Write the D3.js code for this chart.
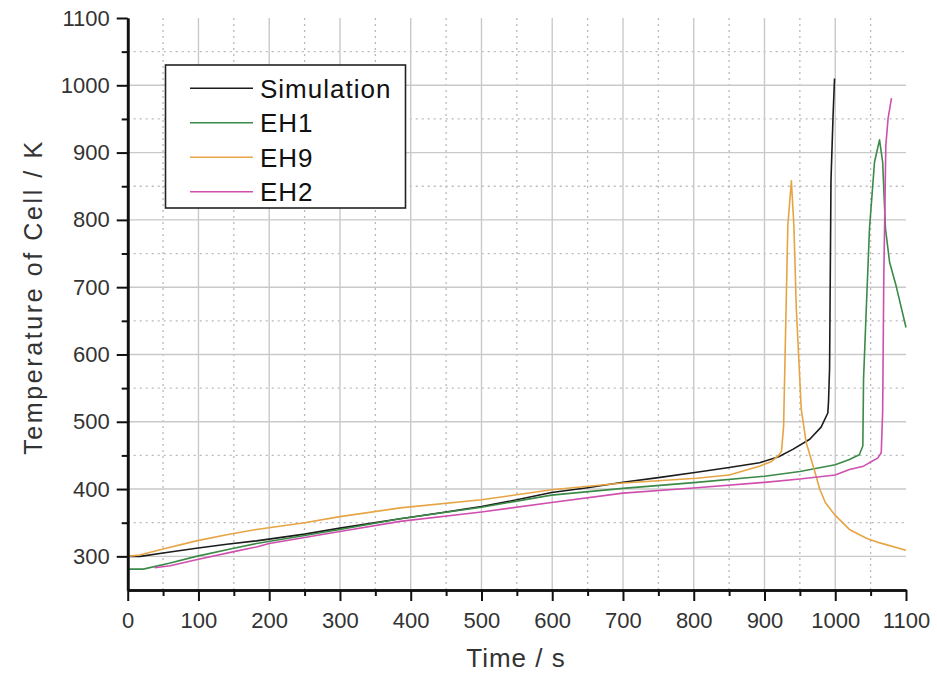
<!DOCTYPE html>
<html>
<head>
<meta charset="utf-8">
<script src="https://cdn.jsdelivr.net/npm/d3@7"></script>
<style>
  body { margin: 0; background: #fff; }
  svg { display: block; }
  text { font-family: Arial, "Liberation Sans", sans-serif; }
</style>
</head>
<body>
<svg id="chart" width="937" height="675"></svg>
<script>
// series data, [time (s), temperature (K)]
const simulationData = [
  [0, 300], [18, 300], [50, 305], [97, 312], [140, 318], [182, 323], [250, 333],
  [300, 342], [385, 356], [450, 366], [500, 374], [550, 384], [599, 395],
  [650, 402], [700, 410], [750, 417], [804, 425], [850, 432], [893, 439],
  [920, 448], [940, 459], [964, 474], [980, 492], [989.5, 513], [990.5, 530],
  [992, 580], [994, 860], [997, 957], [999, 1010]
];
const eh1Data = [
  [0, 281], [22, 281], [60, 290], [97, 300], [150, 312], [182, 319], [250, 331],
  [300, 340], [385, 356], [500, 373], [599, 391], [700, 401], [804, 410],
  [900, 419], [950, 426], [1000, 436], [1020, 444], [1034, 451], [1039, 464],
  [1040, 563], [1043.7, 663], [1048.4, 787], [1055.5, 886], [1062.6, 919],
  [1067, 886], [1071, 787], [1076.8, 737], [1086, 702], [1100, 640]
];
const eh9Data = [
  [0, 300], [17, 302], [50, 311], [97, 323], [140, 332], [182, 340], [250, 350],
  [300, 359], [385, 372], [500, 384], [599, 399], [700, 409], [804, 416],
  [850, 421], [893, 434], [910, 441], [920, 450], [924, 456], [927, 493],
  [930, 643], [933, 792], [938, 858], [941.5, 792], [945, 668], [948.5, 593],
  [952, 518], [959, 469], [966, 444], [973, 419], [978, 400], [986, 380],
  [999, 362], [1020, 340], [1044, 327], [1063, 320], [1100, 309]
];
const eh2Data = [
  [38, 283], [60, 286], [97, 295], [150, 307], [182, 314], [200, 319],
  [300, 337], [385, 352], [500, 366], [599, 380], [700, 394], [804, 402],
  [900, 410], [950, 415], [1000, 421], [1020, 429], [1040, 434], [1048, 439],
  [1060, 446], [1065, 454], [1067, 514], [1068.6, 712], [1071.5, 911],
  [1074.7, 951], [1079.5, 981]
];

const seriesNames = ["Simulation", "EH1", "EH9", "EH2"];
const seriesColors = ["#1c1c1c", "#3b8a47", "#e7a444", "#cf4fae"];
const seriesData = [simulationData, eh1Data, eh9Data, eh2Data];

const xMajor = d3.range(0, 1101, 100);
const xMinor = d3.range(50, 1100, 100);
const yMajor = d3.range(300, 1101, 100);
const yMinor = d3.range(350, 1100, 100);

const xTitle = "Time / s";
const yTitle = "Temperature of Cell / K";

const svg = d3.select("#chart");
const plot = { left: 127.7, right: 906, top: 18, bottom: 590 };

const x = d3.scaleLinear().domain([0, 1100]).range([plot.left, plot.right]);
const y = d3.scaleLinear().domain([250, 1100]).range([plot.bottom, plot.top]);

// grid
const grid = svg.append("g");
grid.selectAll(".vminor").data(xMinor).enter().append("line")
  .attr("x1", d => x(d)).attr("x2", d => x(d))
  .attr("y1", plot.top).attr("y2", plot.bottom)
  .attr("stroke", "#b9b9b9").attr("stroke-width", 1.3)
  .attr("stroke-dasharray", "2,4");
grid.selectAll(".hminor").data(yMinor).enter().append("line")
  .attr("x1", plot.left).attr("x2", plot.right)
  .attr("y1", d => y(d)).attr("y2", d => y(d))
  .attr("stroke", "#b9b9b9").attr("stroke-width", 1.3)
  .attr("stroke-dasharray", "2,4");
grid.selectAll(".vmajor").data(xMajor.filter(d => d > 0 && d < 1100)).enter().append("line")
  .attr("x1", d => x(d)).attr("x2", d => x(d))
  .attr("y1", plot.top).attr("y2", plot.bottom)
  .attr("stroke", "#c9c9c9").attr("stroke-width", 1.4);
grid.selectAll(".hmajor").data(yMajor.filter(d => d < 1100)).enter().append("line")
  .attr("x1", plot.left).attr("x2", plot.right)
  .attr("y1", d => y(d)).attr("y2", d => y(d))
  .attr("stroke", "#c9c9c9").attr("stroke-width", 1.4);

// lines
const line = d3.line().x(d => x(d[0])).y(d => y(d[1]));
svg.append("g").selectAll("path").data(seriesData).enter().append("path")
  .attr("d", d => line(d))
  .attr("fill", "none")
  .attr("stroke", (d, i) => seriesColors[i])
  .attr("stroke-width", 1.6)
  .attr("stroke-linejoin", "round");

// axes
function styleAxis(g) {
  g.select(".domain").attr("stroke", "#111").attr("stroke-width", 2.6);
  g.selectAll(".tick line").attr("stroke", "#111").attr("stroke-width", 2);
  g.selectAll(".tick text").attr("fill", "#333").attr("font-size", 22)
    .attr("font-family", "Arial, 'Liberation Sans', sans-serif");
}
svg.append("g").attr("transform", `translate(0,${plot.bottom})`)
  .call(d3.axisBottom(x).tickValues(xMinor).tickSize(6).tickFormat("").tickSizeOuter(0))
  .call(styleAxis);
svg.append("g").attr("transform", `translate(${plot.left},0)`)
  .call(d3.axisLeft(y).tickValues(yMinor).tickSize(6).tickFormat("").tickSizeOuter(0))
  .call(styleAxis);
svg.append("g").attr("transform", `translate(0,${plot.bottom})`)
  .call(d3.axisBottom(x).tickValues(xMajor).tickSize(11).tickPadding(11)
    .tickFormat(d3.format("d")).tickSizeOuter(0))
  .call(styleAxis);
svg.append("g").attr("transform", `translate(${plot.left},0)`)
  .call(d3.axisLeft(y).tickValues(yMajor).tickSize(11).tickPadding(7)
    .tickFormat(d3.format("d")).tickSizeOuter(0))
  .call(styleAxis);

// titles
svg.append("text")
  .attr("x", 516).attr("y", 667)
  .attr("text-anchor", "middle")
  .attr("font-size", 26).attr("fill", "#333")
  .attr("letter-spacing", 1)
  .text(xTitle);
svg.append("text")
  .attr("transform", "translate(42,297) rotate(-90)")
  .attr("text-anchor", "middle")
  .attr("font-size", 25).attr("fill", "#333")
  .attr("letter-spacing", 2.6)
  .text(yTitle);

// legend
const legend = svg.append("g");
legend.append("rect")
  .attr("x", 165.5).attr("y", 65).attr("width", 240).attr("height", 143)
  .attr("fill", "#fff").attr("stroke", "#222").attr("stroke-width", 1.6);
const rows = legend.selectAll(".row").data(seriesNames).enter().append("g")
  .attr("transform", (d, i) => `translate(0,${88.3 + i * 34.5})`);
rows.append("line")
  .attr("x1", 190).attr("x2", 253)
  .attr("stroke", (d, i) => seriesColors[i]).attr("stroke-width", 1.6);
rows.append("text")
  .attr("x", 260).attr("y", 9.5)
  .attr("font-size", 26).attr("fill", "#111")
  .attr("letter-spacing", 1)
  .text(d => d);
</script>
</body>
</html>
